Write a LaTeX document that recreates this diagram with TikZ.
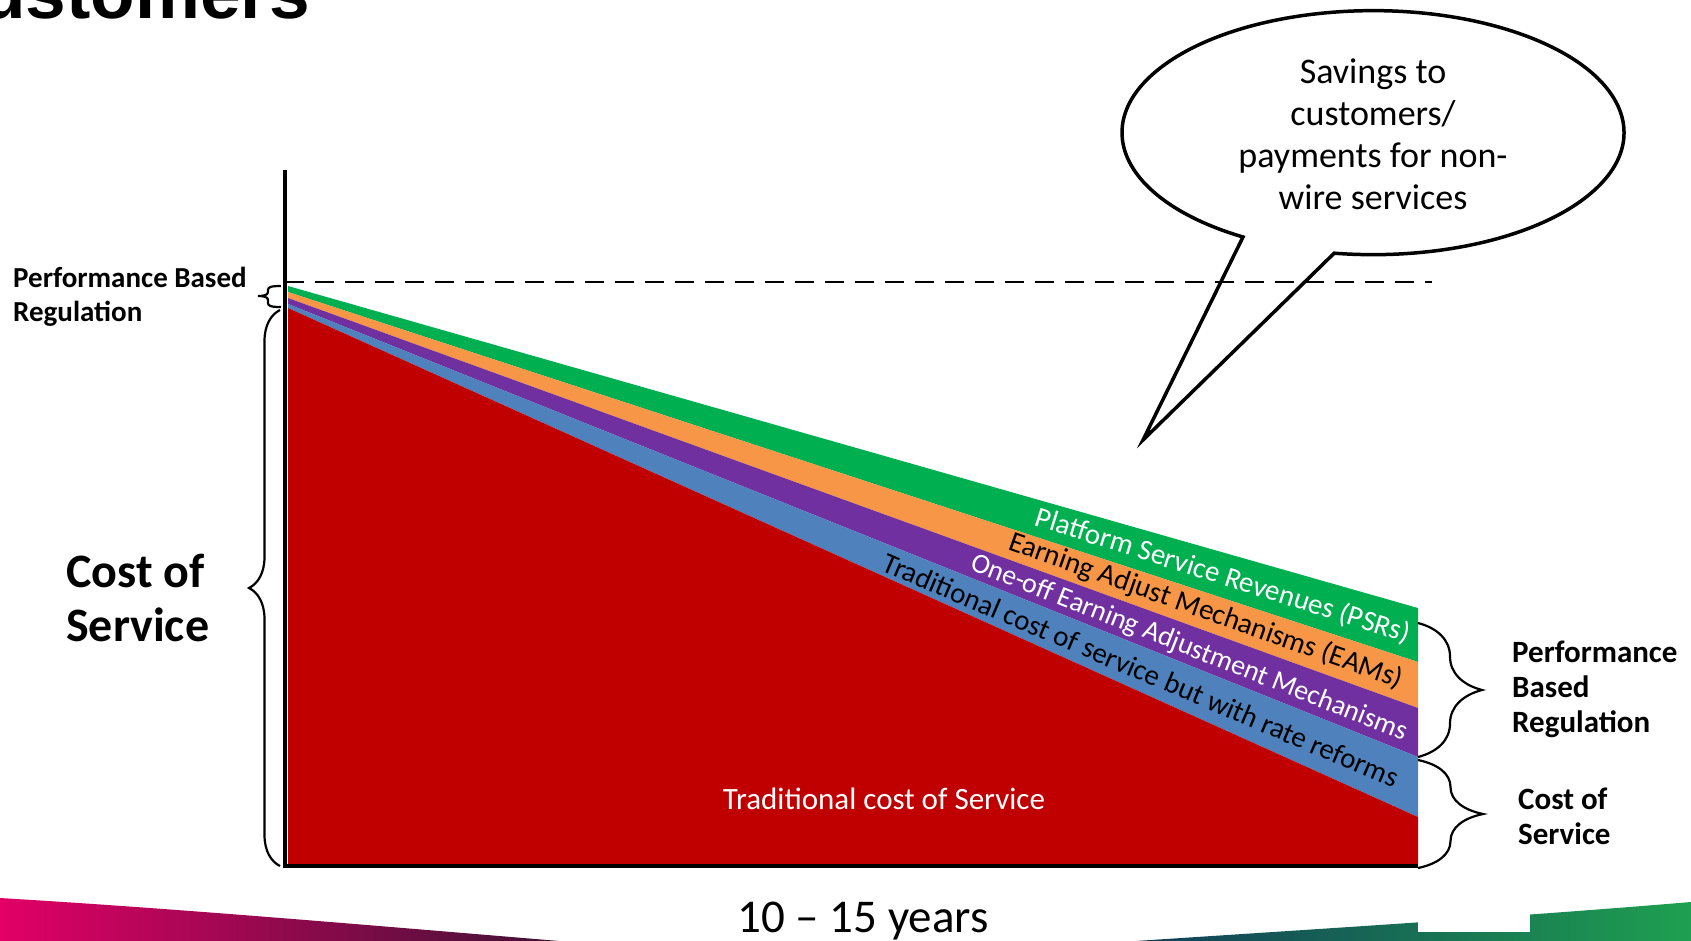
\documentclass[tikz,border=0pt]{standalone}
\usepackage{fontspec}
\setmainfont{Carlito}
\newfontfamily\titlefont{Liberation Sans}
\usetikzlibrary{decorations.pathreplacing}

\definecolor{psrgreen}{HTML}{00B050}
\definecolor{eamorange}{HTML}{F79646}
\definecolor{oneoffpurple}{HTML}{7030A0}
\definecolor{reformblue}{HTML}{4F81BD}
\definecolor{cosred}{HTML}{C00000}
\definecolor{swooshpink}{RGB}{226,0,102}
\definecolor{swooshplum}{RGB}{160,0,90}
\definecolor{swooshdark}{RGB}{48,20,48}
\definecolor{swooshnavy}{RGB}{16,48,90}
\definecolor{swooshteal}{RGB}{0,140,150}
\definecolor{swooshgreen}{RGB}{30,160,80}

\begin{document}
\begin{tikzpicture}[x=1pt,y=-1pt,
  bandtext/.style={inner sep=0pt, font=\fontsize{29}{34}\selectfont},
  sidetext/.style={inner sep=0pt, align=left, anchor=west, font=\bfseries\fontsize{31}{35}\selectfont},
  curly/.style={decorate, decoration={brace, amplitude=#1}, line width=2.2pt},
  outline/.style={line width=3.5pt, line join=miter},
]
\path[use as bounding box] (0,0) rectangle (1691,940);
\clip (0,0) rectangle (1691,940);

% slide footer swooshes
\shade[left color=swooshpink, middle color=swooshplum, right color=swooshdark]
  (0,898) .. controls (200,910) and (400,928) .. (620,946) -- (0,946) -- cycle;
\shade[left color=swooshnavy, middle color=swooshteal, right color=swooshgreen]
  (1060,946) .. controls (1300,930) and (1500,918) .. (1691,902) -- (1691,946) -- cycle;
\fill[white] (1418,870) rectangle (1530,932);

% title fragment
\node[anchor=base west, inner sep=0pt, font=\titlefont\bfseries\fontsize{73}{80}\selectfont] (title) at (-19,18.5) {ustomers};

% stacked revenue bands
\fill[psrgreen]     (288,286) -- (1418,608) -- (1418,662) -- (288,292) -- cycle;
\fill[eamorange]    (288,292) -- (1418,662) -- (1418,708) -- (288,298) -- cycle;
\fill[oneoffpurple] (288,298) -- (1418,708) -- (1418,757) -- (288,304) -- cycle;
\fill[reformblue]   (288,304) -- (1418,757) -- (1418,817) -- (288,308) -- cycle;
\fill[cosred]       (288,308) -- (1418,817) -- (1418,866) -- (288,866) -- cycle;

% axes
\coordinate (ytop) at (285,170);
\coordinate (origin) at (285,866);
\coordinate (xend) at (1418,866);
\draw[line width=4pt] (ytop) -- (285,868);
\draw[line width=4pt] (283,866) -- (xend);

% braces
\draw[line width=2.2pt] (281,286) .. controls (271,286) and (268,287) .. (268,290) -- (268,292)
  .. controls (268,295) and (264,296) .. (258,296) .. controls (264,296) and (268,297) .. (268,300)
  -- (268,303) .. controls (268,306) and (271,307) .. (281,307);
\draw[curly=31] (280,866) -- (280,310);
\draw[curly=64] (1418,623) -- (1418,757);
\draw[curly=65] (1418,760) -- (1418,868);

% speech bubble
\coordinate (tailL) at (1243,237);
\coordinate (tip) at (1143,440);
\coordinate (tailR) at (1334,254);
\draw[outline, fill=white] (tailL) arc[start angle=121.2, end angle=458.9, x radius=251, y radius=122] -- (tip) -- cycle;
\node[inner sep=0pt, align=center, font=\fontsize{36}{42}\selectfont] (bubble) at (1373,134)
  {Savings to\\customers/\\payments for non-\\wire services};

% performance based regulation ceiling
\draw[line width=2.5pt, dash pattern=on 19pt off 11pt] (285,282) -- (1432,282);

% band labels
\node[bandtext, white, rotate=-17.5] (psr) at (1223,576) {Platform Service Revenues (PSRs)};
\node[bandtext, black, rotate=-19.5] (eam) at (1206,611) {Earning Adjust Mechanisms (EAMs)};
\node[bandtext, white, rotate=-21.5, font=\fontsize{28}{34}\selectfont] (oneoff) at (1189,648) {One-off Earning Adjustment Mechanisms};
\node[bandtext, black, rotate=-23] (reform) at (1141,670) {Traditional cost of service but with rate reforms};
\node[inner sep=0pt, white, font=\fontsize{31}{36}\selectfont] (tcos) at (884,799) {Traditional cost of Service};

% side labels
\node[sidetext, font=\bfseries\fontsize{29}{34}\selectfont] (pbrleft) at (13,297) {Performance Based\\Regulation};
\node[sidetext, font=\bfseries\fontsize{48}{54}\selectfont] (cosleft) at (66,598) {Cost of\\Service};
\node[sidetext] (pbrright) at (1512,689) {Performance\\Based\\Regulation};
\node[sidetext] (cosright) at (1518,816) {Cost of\\Service};

% time axis label
\node[anchor=base, inner sep=0pt, font=\fontsize{47}{52}\selectfont] (years) at (863,932) {10 – 15 years};
\end{tikzpicture}
\end{document}
